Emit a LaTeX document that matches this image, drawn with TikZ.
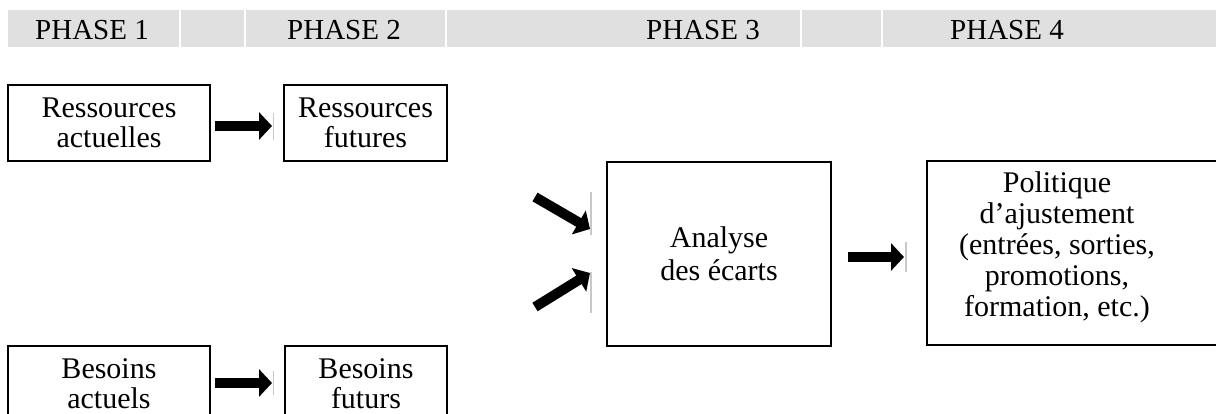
\documentclass[tikz,border=0pt]{standalone}
\usepackage{fontspec}
\setmainfont{Liberation Serif}
\usetikzlibrary{arrows.meta,calc}
\definecolor{hdr}{HTML}{E0E0E0}
\definecolor{rimgray}{HTML}{C8C8C8}
\begin{document}
\begin{tikzpicture}[x=1pt,y=-1pt,
  box/.style={draw=black,line width=1.6pt,inner sep=0pt,align=center,font=\fontsize{30}{30}\selectfont},
  plain/.style={inner sep=0pt,align=center,font=\fontsize{30}{31}\selectfont},
  htext/.style={font=\fontsize{29}{30}\selectfont,inner sep=0pt,anchor=base},
  fat/.style={line width=10pt,-{Triangle[length=13pt,width=27pt]}},
  rim/.style={draw=rimgray,line width=1.5pt}]
\useasboundingbox (0,0) rectangle (1216,414);
\clip (0,0) rectangle (1216,414);
% header band
\fill[hdr] (8,10) rectangle (179,47);
\fill[hdr] (181,10) rectangle (244,47);
\fill[hdr] (246,10) rectangle (445,47);
\fill[hdr] (447,10) rectangle (800,47);
\fill[hdr] (802,10) rectangle (881,47);
\fill[hdr] (883,10) rectangle (1216,47);
\node[htext] (p1) at (92,40) {PHASE 1};
\node[htext] (p2) at (344,40) {PHASE 2};
\node[htext] (p3) at (703,40) {PHASE 3};
\node[htext] (p4) at (1007,40) {PHASE 4};
% boxes
\node[box,minimum width=202pt,minimum height=76pt] (ra) at (109,123) {Ressources\\actuelles};
\node[box,minimum width=163pt,minimum height=76pt] (rf) at (365.5,123) {Ressources\\futures};
\node[box,minimum width=202pt,minimum height=76pt] (ba) at (109,384) {Besoins\\actuels};
\node[box,minimum width=162pt,minimum height=76pt] (bf) at (366,384) {Besoins\\futurs};
\node[box,minimum width=224pt,minimum height=184pt,font=\fontsize{30}{33}\selectfont] (an) at (719,254) {Analyse\\des écarts};
\node[box,minimum width=303pt,minimum height=184pt] (po) at (1078.5,253) {};
\node[plain] (pot) at (1057,247) {Politique\\d’ajustement\\(entrées, sorties,\\promotions,\\formation, etc.)};
% arrows
\coordinate (a1s) at (215,126); \coordinate (a1e) at (272,126);
\coordinate (a2s) at (215,383); \coordinate (a2e) at (272,383);
\coordinate (a3s) at (848,257); \coordinate (a3e) at (904,257);
\coordinate (a4s) at (535,197); \coordinate (a4e) at (590,229);
\coordinate (a5s) at (535,307); \coordinate (a5e) at (590,273);
\draw[fat] (a1s) -- (a1e);
\draw[fat] (a2s) -- (a2e);
\draw[fat] (a3s) -- (a3e);
\draw[fat] (a4s) -- (a4e);
\draw[fat] (a5s) -- (a5e);
% thin grey edges beside the arrow tips
\draw[rim] (273.5,113) -- (273.5,140);
\draw[rim] (273.5,371) -- (273.5,395);
\draw[rim] (906,242) -- (906,272);
\draw[rim] (591,192) -- (591,235);
\draw[rim] (591,272) -- (591,313);
\end{tikzpicture}
\end{document}
